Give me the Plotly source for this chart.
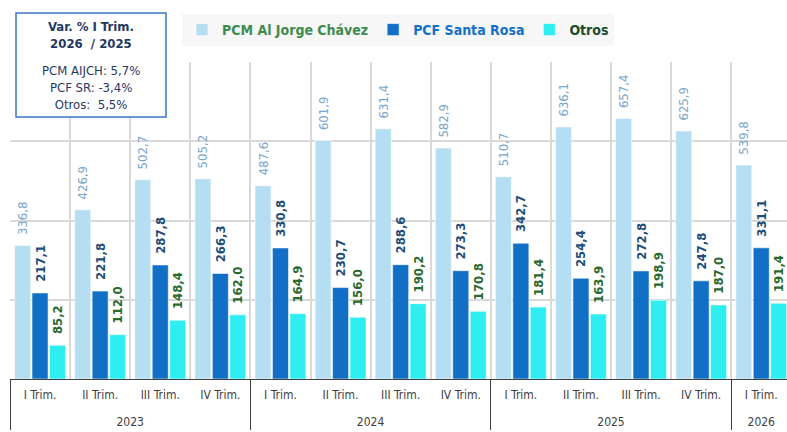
import plotly.graph_objects as go

years = ["2023", "2023", "2023", "2023", "2024", "2024", "2024", "2024",
         "2025", "2025", "2025", "2025", "2026"]
quarters = ["I Trim.", "II Trim.", "III Trim.", "IV Trim.", "I Trim.", "II Trim.", "III Trim.", "IV Trim.",
            "I Trim.", "II Trim.", "III Trim.", "IV Trim.", "I Trim."]
pcm = [336.8, 426.9, 502.7, 505.2, 487.6, 601.9, 631.4, 582.9, 510.7, 636.1, 657.4, 625.9, 539.8]
pcf = [217.1, 221.8, 287.8, 266.3, 330.8, 230.7, 288.6, 273.3, 342.7, 254.4, 272.8, 247.8, 331.1]
otros = [85.2, 112.0, 148.4, 162.0, 164.9, 156.0, 190.2, 170.8, 181.4, 163.9, 198.9, 187.0, 191.4]

series_names = ["PCM Al Jorge Chávez", "PCF Santa Rosa", "Otros"]
box_title = ["Var. % I Trim.", "2026  / 2025"]
box_lines = ["PCM AIJCH: 5,7%", "PCF SR: -3,4%", "Otros:  5,5%"]

FONT = "Liberation Sans Narrow, Arial Narrow, DejaVu Sans Condensed, sans-serif"
W, H = 787, 432
ML, MR, MT, MB = 10, 0, 62, 53
PW = W - ML - MR
PH = H - MT - MB

def fmt(v):
    return "\u00a0\u00a0" + f"{v:.1f}".replace(".", ",")

# outer labels pushed one line lower (extra blank line on top)
outer = ["\u00a0<br>" + y for y in years]
x = [outer, quarters]

fig = go.Figure()
specs = [
    (pcm, series_names[0], "#B6DEF2", "#7AA6CC", False, "#3D8B4F"),
    (pcf, series_names[1], "#1170C6", "#1F4E79", True, "#1470C4"),
    (otros, series_names[2], "#2EEEF2", "#2A6A2E", True, "#1E4D2B"),
]
for vals, name, col, tcol, bold, lcol in specs:
    fig.add_trace(go.Bar(
        x=x, y=vals,
        name=f"<b><span style='color:{lcol}'>{name}</span></b>",
        marker=dict(color=col, line=dict(color="rgba(255,255,255,0.55)", width=1)),
        text=[("<b>" + fmt(v) + "</b>") if bold else fmt(v) for v in vals],
        textposition="outside",
        textangle=-90,
        constraintext="none",
        cliponaxis=False,
        textfont=dict(family=FONT, size=13, color=tcol),
    ))

fig.update_layout(
    width=W, height=H,
    margin=dict(l=ML, r=MR, t=MT, b=MB, pad=0),
    paper_bgcolor="white", plot_bgcolor="white",
    barmode="group", bargap=0.13, bargroupgap=0.08,
    font=dict(family=FONT, size=12, color="#404040"),
    showlegend=True,
    legend=dict(
        orientation="h",
        x=(182 - ML) / PW, xanchor="left",
        y=(H - MB - 14) / PH, yanchor="top",
        bgcolor="#F7F7F7",
        font=dict(family=FONT, size=14),
        itemclick=False,
    ),
)

fig.update_xaxes(
    type="multicategory",
    range=[-0.5, -0.5 + PW / 60.1],
    showline=True, linecolor="#404040", linewidth=1,
    showgrid=True, gridcolor="#D9D9D9", gridwidth=1.5,
    tickson="boundaries",
    ticks="",
    ticklabelstandoff=5,
    showdividers=True, dividercolor="#404040", dividerwidth=1,
    tickfont=dict(family=FONT, size=12, color="#404040"),
)
fig.update_yaxes(
    range=[0, 800], dtick=200,
    showticklabels=False,
    showgrid=True, gridcolor="#D9D9D9", gridwidth=1.5,
    zeroline=False, showline=False,
)

# Variation box
bx0, bx1, by0, by1 = 16, 166, 13, 117
fig.add_shape(
    type="rect", xref="paper", yref="paper",
    x0=(bx0 - ML) / PW, x1=(bx1 - ML) / PW,
    y0=(H - MB - by1) / PH, y1=(H - MB - by0) / PH,
    line=dict(color="#3A78C0", width=1.5), fillcolor="white", layer="above",
)
fig.add_annotation(
    xref="paper", yref="paper",
    x=((bx0 + bx1) / 2 - ML) / PW, y=(H - MB - 17) / PH,
    xanchor="center", yanchor="top", showarrow=False,
    text="<br>".join("<b>" + t + "</b>" for t in box_title),
    font=dict(family=FONT, size=13, color="#1F3864"),
    align="center",
)
fig.add_annotation(
    xref="paper", yref="paper",
    x=((bx0 + bx1) / 2 - ML) / PW, y=(H - MB - 61) / PH,
    xanchor="center", yanchor="top", showarrow=False,
    text="<br>".join(box_lines),
    font=dict(family=FONT, size=13, color="#1F3864"),
    align="center",
)

fig.write_html("out.html", config={"displayModeBar": False},
               post_script="document.body.style.margin='0';")
